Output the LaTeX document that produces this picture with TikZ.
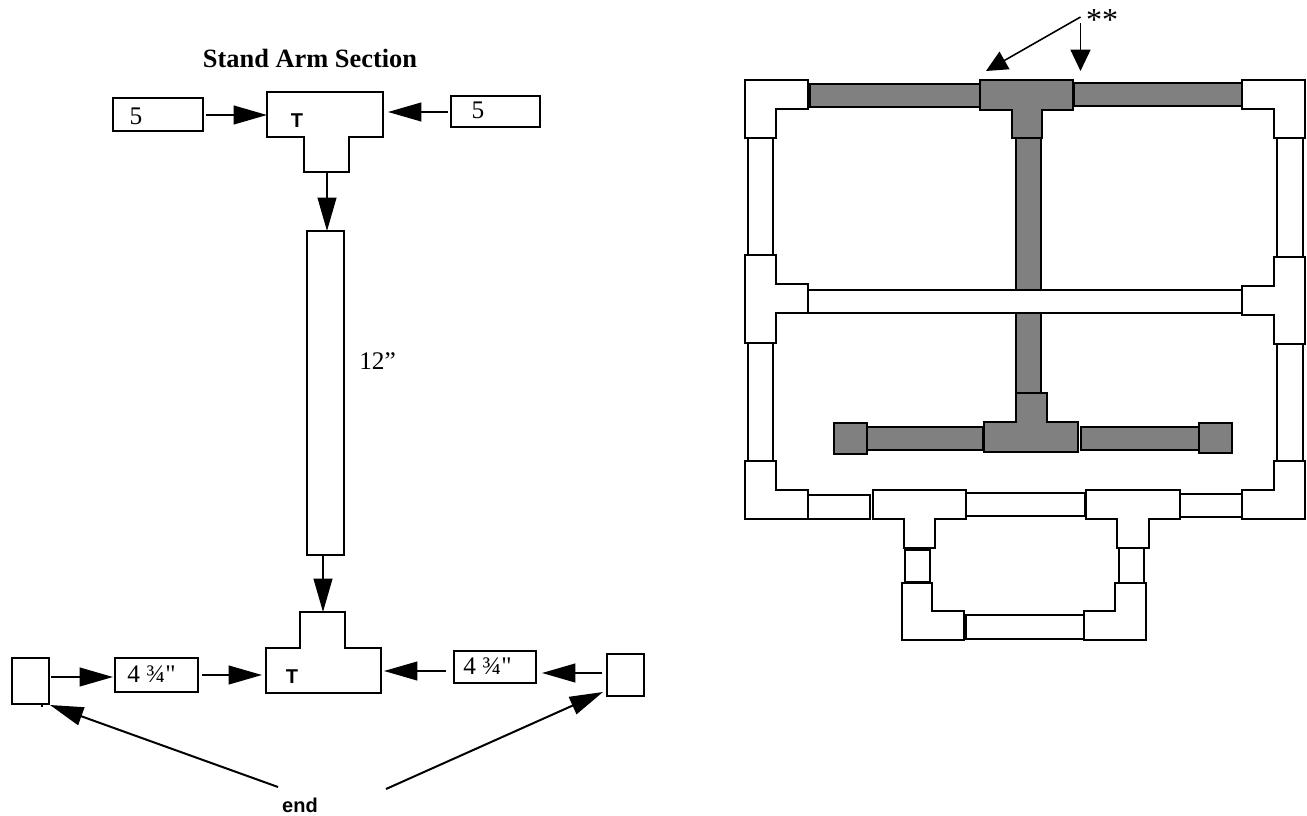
\documentclass[tikz,border=0pt]{standalone}
\usepackage{fontspec}
\setmainfont{Liberation Serif}
\setsansfont{Liberation Sans}
\newfontfamily\plainserif{Liberation Serif}
\usetikzlibrary{arrows.meta}
\definecolor{pipegray}{HTML}{808080}

\begin{document}
\begin{tikzpicture}[
  x=0.75pt,
  y=-0.75pt,
  line join=miter,
  outline/.style={draw=black,line width=1.5pt},
  stockbox/.style 2 args={draw=black,line width=1.5pt,inner sep=0pt,outer sep=0pt,minimum width=#1*0.75pt,minimum height=#2*0.75pt},
  feed/.style={draw=black,line width=1.5pt,-{Triangle[length=25pt,width=14pt]}},
  feedsmall/.style={draw=black,line width=1.2pt,-{Triangle[length=16pt,width=15pt]}},
  fitting/.style={draw=black,line width=1.1pt,fill=white},
  fittinggray/.style={draw=black,line width=1.3pt,fill=pipegray},
  sizelabel/.style={font=\fontsize{19pt}{19pt}\selectfont,inner sep=0pt},
  quarterlabel/.style={font=\plainserif\fontsize{19pt}{19pt}\selectfont,inner sep=0pt},
  teelabel/.style={font=\sffamily\bfseries\fontsize{15pt}{15pt}\selectfont,inner sep=0pt}
]
  \useasboundingbox (0,0) rectangle (1307,816);

  % Stand arm section, exploded.
  \node[font=\bfseries\fontsize{19.8pt}{19.8pt}\selectfont,inner sep=0pt] (armTitle) at (310,58) {Stand Arm Section};

  % Upper tee and its two arms.
  \draw[outline] (267,92) -- (383,92) -- (383,137) -- (349,137) -- (349,172) -- (304,172) -- (304,137) -- (267,137) -- cycle;
  \node[teelabel] (teeUpper) at (297,121) {T};
  \node[stockbox={90}{33}] (cutFiveL) at (158,114.5) {};
  \node[stockbox={89}{31}] (cutFiveR) at (495.5,111.5) {};
  \node[sizelabel] (labelFiveL) at (136,116) {5};
  \node[sizelabel] (labelFiveR) at (478,110) {5};
  \node[stockbox={37}{324}] (armPipe) at (325.5,393) {};
  \node[sizelabel,anchor=west] (labelArm) at (359,361) {12”};

  % Lower tee, its two arms and the end caps.
  \draw[outline] (300,612) -- (345,612) -- (345,648) -- (381,648) -- (381,693) -- (266,693) -- (266,648) -- (300,648) -- cycle;
  \node[teelabel] (teeLower) at (292,677) {T};
  \node[stockbox={83}{34}] (cutQuarterL) at (156.5,675) {};
  \node[stockbox={82}{32}] (cutQuarterR) at (495,667) {};
  \node[quarterlabel,anchor=west] (labelQuarterL) at (127,674) {4 ¾"};
  \node[quarterlabel,anchor=west] (labelQuarterR) at (463,666) {4 ¾"};
  \node[stockbox={37}{46}] (capL) at (30.5,681) {};
  \node[stockbox={37}{42}] (capR) at (625.5,675) {};
  \draw[line width=1pt] (42,703) -- (42,707);
  \node[teelabel] (labelEnd) at (300,805) {end};

  % Ports for the arrows.
  \coordinate (upperW) at (267,115);
  \coordinate (upperE) at (388,112);
  \coordinate (upperS) at (327,172);
  \coordinate (armTop) at (327,231);
  \coordinate (armEnd) at (323,555);
  \coordinate (lowerN) at (323,612);
  \coordinate (lowerW) at (262,675);
  \coordinate (lowerE) at (384,671);
  \coordinate (endStartL) at (278,787);
  \coordinate (endStartR) at (386,789);
  \coordinate (capTipL) at (50,705);
  \coordinate (capTipR) at (603,692);

  \draw[feed] (206,115) -- (upperW);
  \draw[feed] (448,112) -- (upperE);
  \draw[feed] (upperS) -- (armTop);
  \draw[feed] (armEnd) -- (lowerN);
  \draw[feed] (51,677) -- (113,677);
  \draw[feed] (202,675) -- (lowerW);
  \draw[feed] (446,671) -- (lowerE);
  \draw[feed] (602,673) -- (542,673);
  \draw[feed] (endStartL) -- (capTipL);
  \draw[feed] (endStartR) -- (capTipR);

  % Gray run behind the white cross pipe.
  \draw[fittinggray] (1016,138) rectangle (1041,393);
  \draw[fitting] (807,290) rectangle (1244,313);

  % White pipes.
  \foreach \xa/\ya/\xb/\yb in {748/138/773/255,1277/138/1303/257,748/343/773/461,1277/344/1303/461,
    808/495/870/519,966/493/1085/516,1180/494/1242/517,905/550/930/582,1119/548/1144/583,966/615/1084/639} {
    \draw[fitting] (\xa,\ya) rectangle (\xb,\yb);
  }

  % Gray pipes and end caps.
  \foreach \xa/\ya/\xb/\yb in {810/84/980/107,1074/83/1242/106,867/427/983/450,1081/427/1199/450,
    834/423/867/454,1199/423/1232/453} {
    \draw[fittinggray] (\xa,\ya) rectangle (\xb,\yb);
  }

  % Gray tees.
  \draw[fittinggray] (980,80) -- (1073,80) -- (1073,110) -- (1042,110) -- (1042,138) -- (1012,138) -- (1012,110) -- (980,110) -- cycle;
  \draw[fittinggray] (1016,393) -- (1047,393) -- (1047,422) -- (1078,422) -- (1078,452) -- (984,452) -- (984,422) -- (1016,422) -- cycle;

  % Corner elbows.
  \draw[fitting] (745,80) -- (808,80) -- (808,109) -- (776,109) -- (776,138) -- (745,138) -- cycle;
  \draw[fitting] (1242,80) -- (1305,80) -- (1305,138) -- (1274,138) -- (1274,109) -- (1242,109) -- cycle;
  \draw[fitting] (745,461) -- (776,461) -- (776,490) -- (808,490) -- (808,519) -- (745,519) -- cycle;
  \draw[fitting] (1274,461) -- (1305,461) -- (1305,519) -- (1242,519) -- (1242,490) -- (1274,490) -- cycle;
  \draw[fitting] (902,583) -- (932,583) -- (932,611) -- (964,611) -- (964,640) -- (902,640) -- cycle;
  \draw[fitting] (1115,583) -- (1146,583) -- (1146,640) -- (1084,640) -- (1084,611) -- (1115,611) -- cycle;

  % Side tees on the frame.
  \draw[fitting] (745,255) -- (776,255) -- (776,284) -- (808,284) -- (808,313) -- (776,313) -- (776,343) -- (745,343) -- cycle;
  \draw[fitting] (1274,257) -- (1305,257) -- (1305,344) -- (1274,344) -- (1274,315) -- (1242,315) -- (1242,286) -- (1274,286) -- cycle;

  % Tees on the bottom rail.
  \draw[fitting] (873,490) -- (966,490) -- (966,519) -- (935,519) -- (935,548) -- (904,548) -- (904,519) -- (873,519) -- cycle;
  \draw[fitting] (1086,490) -- (1180,490) -- (1180,519) -- (1149,519) -- (1149,548) -- (1117,548) -- (1117,519) -- (1086,519) -- cycle;

  % Marker for the two cut spots.
  \node[font=\fontsize{24pt}{24pt}\selectfont,inner sep=0pt] (starMark) at (1102,20) {**};
  \coordinate (starFork) at (1080.5,17);
  \coordinate (starDrop) at (1080.5,23);
  \coordinate (tipTee) at (986,71);
  \coordinate (tipRun) at (1080.5,71);
  \draw[feedsmall] (starFork) -- (tipTee);
  \draw[feedsmall] (starDrop) -- (tipRun);
\end{tikzpicture}
\end{document}
